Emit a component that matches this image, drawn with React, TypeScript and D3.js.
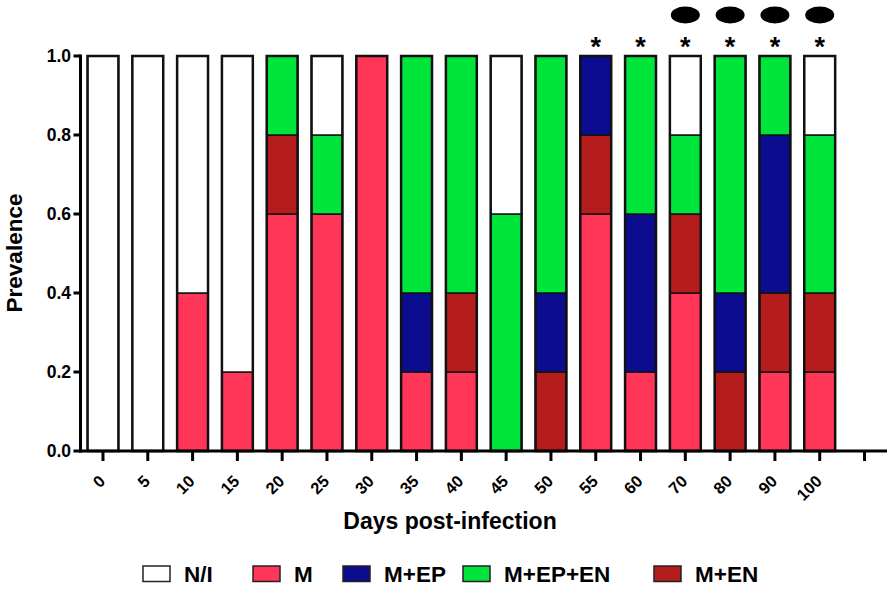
import * as d3 from 'd3'

const days = ['0', '5', '10', '15', '20', '25', '30', '35', '40', '45', '50', '55', '60', '70', '80', '90', '100']
const groups = ['M', 'M+EN', 'M+EP', 'M+EP+EN', 'N/I']
const legendOrder = ['N/I', 'M', 'M+EP', 'M+EP+EN', 'M+EN']

const mVals = [0, 0, 0.4, 0.2, 0.6, 0.6, 1.0, 0.2, 0.2, 0, 0, 0.6, 0.2, 0.4, 0, 0.2, 0.2]
const mEnVals = [0, 0, 0, 0, 0.2, 0, 0, 0, 0.2, 0, 0.2, 0.2, 0, 0.2, 0.2, 0.2, 0.2]
const mEpVals = [0, 0, 0, 0, 0, 0, 0, 0.2, 0, 0, 0.2, 0.2, 0.4, 0, 0.2, 0.4, 0]
const mEpEnVals = [0, 0, 0, 0, 0.2, 0.2, 0, 0.6, 0.6, 0.6, 0.6, 0, 0.4, 0.2, 0.6, 0.2, 0.4]
const niVals = [1, 1, 0.6, 0.8, 0, 0.2, 0, 0, 0, 0.4, 0, 0, 0, 0.2, 0, 0, 0.2]

const starDays = ['55', '60', '70', '80', '90', '100']
const ovalDays = ['70', '80', '90', '100']
const yTicks = [0, 0.2, 0.4, 0.6, 0.8, 1.0]

const colors = {
    'N/I': '#ffffff',
    'M': '#ff3657',
    'M+EP': '#0c0c8e',
    'M+EP+EN': '#00e53c',
    'M+EN': '#b51c1c',
}

const font = '"Liberation Sans", Arial, sans-serif'

export default function App() {
    const width = 893
    const height = 591
    const left = 80.5
    const right = 887
    const top = 56
    const bottom = 451

    // extra empty slot at the end, as in the original axis
    const x = d3.scaleBand().domain([...days, '']).range([left, right]).paddingInner(0.31).paddingOuter(0.157)
    const y = d3.scaleLinear().domain([0, 1]).range([bottom, top])

    const table = days.map((d, i) => ({
        day: d,
        'M': mVals[i],
        'M+EN': mEnVals[i],
        'M+EP': mEpVals[i],
        'M+EP+EN': mEpEnVals[i],
        'N/I': niVals[i],
    }))
    const stacked = d3.stack().keys(groups)(table as any)

    const cx = (d: string) => (x(d) ?? 0) + x.bandwidth() / 2

    const legendX = [143, 253, 343, 463, 654]

    return (
        <svg width={width} height={height} style={{ position: 'absolute', left: 0, top: 0 }} fontFamily={font}>
            <rect width={width} height={height} fill="#fff" />
            {stacked.map(layer => (
                <g key={layer.key}>
                    {layer.map((s, i) => {
                        if (s[1] - s[0] <= 0) return null
                        return (
                            <rect key={i} x={x(days[i])} width={x.bandwidth()} y={y(s[1])} height={y(s[0]) - y(s[1])}
                                fill={colors[layer.key]} stroke="#111" strokeWidth={1.5} />
                        )
                    })}
                </g>
            ))}
            {days.map(d => (
                <rect key={d} x={x(d)} width={x.bandwidth()} y={y(1)} height={y(0) - y(1)} fill="none" stroke="#111" strokeWidth={2.5} />
            ))}

            {/* y axis */}
            <line x1={left} x2={left} y1={top - 1.5} y2={bottom + 1.5} stroke="#000" strokeWidth={3} />
            {yTicks.map(t => (
                <g key={t}>
                    <line x1={left - 7} x2={left} y1={y(t)} y2={y(t)} stroke="#000" strokeWidth={3} />
                    <text x={71} y={y(t)} dy="0.36em" textAnchor="end" fontSize={17.5} fontWeight="bold">{t.toFixed(1)}</text>
                </g>
            ))}
            <text transform={`translate(22,253) rotate(-90)`} textAnchor="middle" fontSize={22.5} fontWeight="bold">Prevalence</text>

            {/* x axis */}
            <line x1={left - 1.5} x2={right} y1={bottom} y2={bottom} stroke="#000" strokeWidth={3} />
            {[...days, ''].map(d => (
                <line key={'t' + d} x1={cx(d)} x2={cx(d)} y1={bottom} y2={bottom + 10} stroke="#000" strokeWidth={3} />
            ))}
            {days.map(d => (
                <text key={'l' + d} transform={`translate(${cx(d) - 1},${bottom + 27}) rotate(-45)`} textAnchor="end"
                    dy="0.36em" fontSize={16.5} fontWeight="bold">{d}</text>
            ))}
            <text x={450} y={529} textAnchor="middle" fontSize={23} fontWeight="bold">Days post-infection</text>

            {/* significance marks */}
            {starDays.map(d => (
                <text key={'s' + d} x={cx(d)} y={56} textAnchor="middle" fontSize={27} fontWeight="bold">*</text>
            ))}
            {ovalDays.map(d => (
                <ellipse key={'o' + d} cx={cx(d)} cy={15} rx={14.5} ry={8.5} fill="#000" />
            ))}

            {/* legend */}
            {legendOrder.map((k, i) => (
                <g key={k}>
                    <rect x={legendX[i]} y={566} width={27} height={15.5} fill={colors[k]} stroke="#222" strokeWidth={1.5} />
                    <text x={legendX[i] + 41} y={582} fontSize={22.5} fontWeight="bold">{k}</text>
                </g>
            ))}
        </svg>
    )
}
